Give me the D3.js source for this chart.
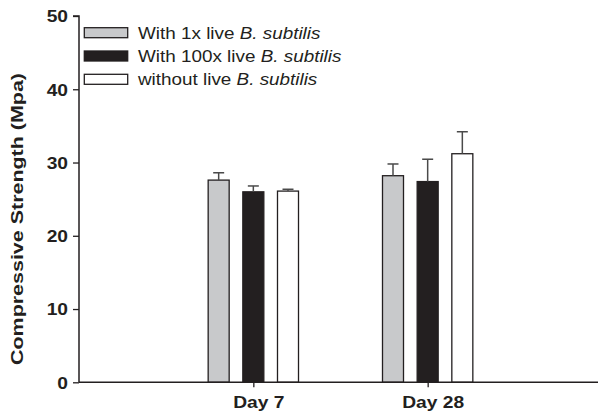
<!DOCTYPE html>
<html><head><meta charset="utf-8">
<script src="https://cdn.jsdelivr.net/npm/d3@7"></script>
<style>
html,body{margin:0;padding:0;background:#fff;}
svg{display:block;font-family:"Liberation Sans",Arial,Helvetica,sans-serif;}
</style></head>
<body>
<svg id="chart" width="598" height="414"></svg>
<script>
const days = ["Day 7", "Day 28"];
const seriesNames = ["With 1x live ", "With 100x live ", "without live "];
const seriesItalic = ["B. subtilis", "B. subtilis", "B. subtilis"];
const seriesKeys = ["s1x", "s100x", "none"];
const means1x   = [27.6, 28.2];
const means100x = [26.0, 27.4];
const meansNone = [26.1, 31.2];
const err1x   = [1.0, 1.6];
const err100x = [0.8, 3.05];
const errNone = [0.25, 3.0];
const yTicks = [0, 10, 20, 30, 40, 50];
const fills = ["#c8c9cb", "#231f20", "#ffffff"];

const means = [means1x, means100x, meansNone];
const errs = [err1x, err100x, errNone];
const rows = [];
days.forEach((d, i) => seriesKeys.forEach((k, j) => rows.push({day: d, key: k, idx: j, v: means[j][i], e: errs[j][i]})));

const svg = d3.select("#chart");
const ink = "#231f20";
const FF = "'Liberation Sans',Arial,sans-serif";

function stretch(sel, f) {
  sel.each(function() {
    const w = this.getComputedTextLength();
    d3.select(this).attr("textLength", w * f).attr("lengthAdjust", "spacingAndGlyphs");
  });
}

const y = d3.scaleLinear().domain([0, 50]).range([382.3, 16]);
const x = d3.scalePoint().domain(days).range([79, 602]).padding(1);
const x1 = d3.scaleBand().domain(seriesKeys).range([-52, 52]).paddingInner(0.394).paddingOuter(0.197);

// bars
svg.append("g").selectAll("rect").data(rows).join("rect")
  .attr("x", d => x(d.day) + x1(d.key))
  .attr("y", d => y(d.v))
  .attr("width", x1.bandwidth())
  .attr("height", d => y(0) - y(d.v))
  .attr("fill", d => fills[d.idx])
  .attr("stroke", ink).attr("stroke-width", 1.3);

// error bars (upper only)
const eg = svg.append("g").attr("stroke", "#4a4a4a").attr("stroke-width", 1.5);
rows.forEach(d => {
  const cx = x(d.day) + x1(d.key) + x1.bandwidth() / 2;
  eg.append("line").attr("x1", cx).attr("x2", cx).attr("y1", y(d.v)).attr("y2", y(d.v + d.e));
  eg.append("line").attr("x1", cx - 5.5).attr("x2", cx + 5.5).attr("y1", y(d.v + d.e)).attr("y2", y(d.v + d.e));
});

// y axis
const ya = svg.append("g").attr("transform", "translate(79,0)")
  .call(d3.axisLeft(y).tickValues(yTicks).tickSize(6).tickPadding(5));
ya.select(".domain").attr("stroke", ink).attr("stroke-width", 1.5).attr("d", `M-6,${y(50)}H0V${y(0)}`);
ya.selectAll(".tick line").attr("stroke", ink).attr("stroke-width", 1.3);
ya.selectAll(".tick text").attr("fill", ink).attr("dy", "0.36em").style("font-size", "16px").style("font-weight", "bold")
  .style("font-family", FF);
stretch(ya.selectAll(".tick text"), 1.2);

// x axis
const xa = svg.append("g").attr("transform", `translate(0,${y(0)})`)
  .call(d3.axisBottom(x).tickSize(5).tickPadding(9));
xa.select(".domain").attr("stroke", ink).attr("stroke-width", 1.5).attr("d", `M79,0H598`);
xa.selectAll(".tick line").attr("stroke", ink).attr("stroke-width", 1.3);
xa.selectAll(".tick text").attr("fill", ink).style("font-size", "16px").style("font-weight", "bold")
  .style("font-family", FF)
  .attr("dx", 5);
stretch(xa.selectAll(".tick text"), 1.2);

// y title
const yt = svg.append("text")
  .attr("transform", "translate(23,219) rotate(-90)")
  .attr("text-anchor", "middle")
  .attr("fill", ink)
  .style("font-size", "16.5px").style("font-weight", "bold").style("font-family", FF)
  .text("Compressive Strength (Mpa)");
stretch(yt, 1.3);

// legend
const lg = svg.append("g");
seriesKeys.forEach((k, j) => {
  const cy = 32.7 + j * 23.3;
  lg.append("rect").attr("x", 84.3).attr("y", cy - 5).attr("width", 43.4).attr("height", 10)
    .attr("fill", fills[j]).attr("stroke", ink).attr("stroke-width", 1.3);
  const t = lg.append("text").attr("transform", `translate(138,${cy + 5.8}) scale(1.18,1)`)
    .attr("fill", ink).style("font-size", "16px").style("font-family", FF);
  t.append("tspan").text(seriesNames[j]);
  t.append("tspan").style("font-style", "italic").text(seriesItalic[j]);
});
</script>
</body></html>
